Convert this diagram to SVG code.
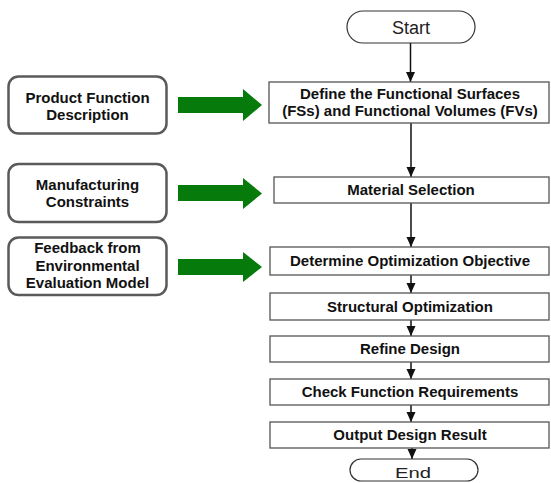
<svg xmlns="http://www.w3.org/2000/svg" width="551" height="483" viewBox="0 0 551 483">
<style>
.bg{fill:#fff}
.box{fill:#fff;stroke:#555;stroke-width:1.3}
.lbox{fill:#fff;stroke:#5a5a5a;stroke-width:2.5}
.term{fill:#fff;stroke:#333;stroke-width:1.2}
.t{font-family:"Liberation Sans",Arial,sans-serif;font-size:15px;font-weight:bold;fill:#111;text-anchor:middle}
.tt{font-family:"Liberation Sans",Arial,sans-serif;font-weight:normal;fill:#222;text-anchor:middle}
.con{stroke:#111;stroke-width:1.5;fill:none;marker-end:url(#ah)}
.g{fill:#077a0c}
</style>
<defs>
<marker id="ah" markerUnits="userSpaceOnUse" markerWidth="10" markerHeight="12" viewBox="0 0 10 12" refX="10" refY="5" orient="auto">
<path d="M0,0.5 L10,5 L0,9.5 Z" fill="#111"/>
</marker>
</defs>
<rect class="bg" x="0" y="0" width="551" height="483"/>
<g id="connectors">
<line class="con" x1="410.5" y1="43" x2="410.5" y2="82"/>
<line class="con" x1="411" y1="123" x2="411" y2="177"/>
<line class="con" x1="411" y1="203" x2="411" y2="247"/>
<line class="con" x1="411" y1="275" x2="411" y2="293"/>
<line class="con" x1="411" y1="320" x2="411" y2="336"/>
<line class="con" x1="411" y1="362" x2="411" y2="379"/>
<line class="con" x1="411" y1="405" x2="411" y2="422"/>
<line class="con" x1="412" y1="448" x2="412" y2="459"/>
<polygon class="g" points="178,97 243,97 243,89 262,105 243,121 243,113 178,113"/>
<polygon class="g" points="178,185 243,185 243,178 262,193.5 243,209 243,201 178,201"/>
<polygon class="g" points="178,259 243,259 243,252 262,267 243,282 243,275 178,275"/>
</g>
<g id="start">
<rect class="term" x="347" y="11" width="128" height="32" rx="16"/>
<text class="tt" x="411" y="33.5" font-size="18">Start</text>
</g>
<g id="define">
<rect class="box" x="269" y="82" width="280" height="41"/>
<text class="t" x="410" y="98.5">Define the Functional Surfaces</text>
<text class="t" x="410" y="116">(FSs) and Functional Volumes (FVs)</text>
</g>
<g id="material">
<rect class="box" x="274" y="177" width="275" height="26"/>
<text class="t" x="411" y="194.5">Material Selection</text>
</g>
<g id="objective">
<rect class="box" x="270" y="247" width="279" height="28"/>
<text class="t" x="410" y="266">Determine Optimization Objective</text>
</g>
<g id="structural">
<rect class="box" x="270" y="293" width="279" height="27"/>
<text class="t" x="410" y="311.5">Structural Optimization</text>
</g>
<g id="refine">
<rect class="box" x="270" y="336" width="279" height="26"/>
<text class="t" x="410" y="354">Refine Design</text>
</g>
<g id="check">
<rect class="box" x="270" y="379" width="279" height="26"/>
<text class="t" x="410" y="396.5">Check Function Requirements</text>
</g>
<g id="output">
<rect class="box" x="270" y="422" width="279" height="26"/>
<text class="t" x="410" y="440">Output Design Result</text>
</g>
<g id="end">
<rect class="term" x="350" y="459" width="128" height="22" rx="11"/>
<text class="tt" x="413" y="477.5" font-size="15" textLength="36" lengthAdjust="spacingAndGlyphs">End</text>
</g>
<g id="product">
<rect class="lbox" x="8.5" y="76.5" width="158" height="57" rx="10"/>
<text class="t" x="87.5" y="102.5">Product Function</text>
<text class="t" x="87.5" y="120">Description</text>
</g>
<g id="manufacturing">
<rect class="lbox" x="8.5" y="164" width="158" height="58" rx="10"/>
<text class="t" x="87.5" y="189.5">Manufacturing</text>
<text class="t" x="87.5" y="207">Constraints</text>
</g>
<g id="feedback">
<rect class="lbox" x="8.5" y="237.5" width="158" height="57.5" rx="10"/>
<text class="t" x="87.5" y="253">Feedback from</text>
<text class="t" x="87.5" y="270.5">Environmental</text>
<text class="t" x="87.5" y="288">Evaluation Model</text>
</g>
</svg>
